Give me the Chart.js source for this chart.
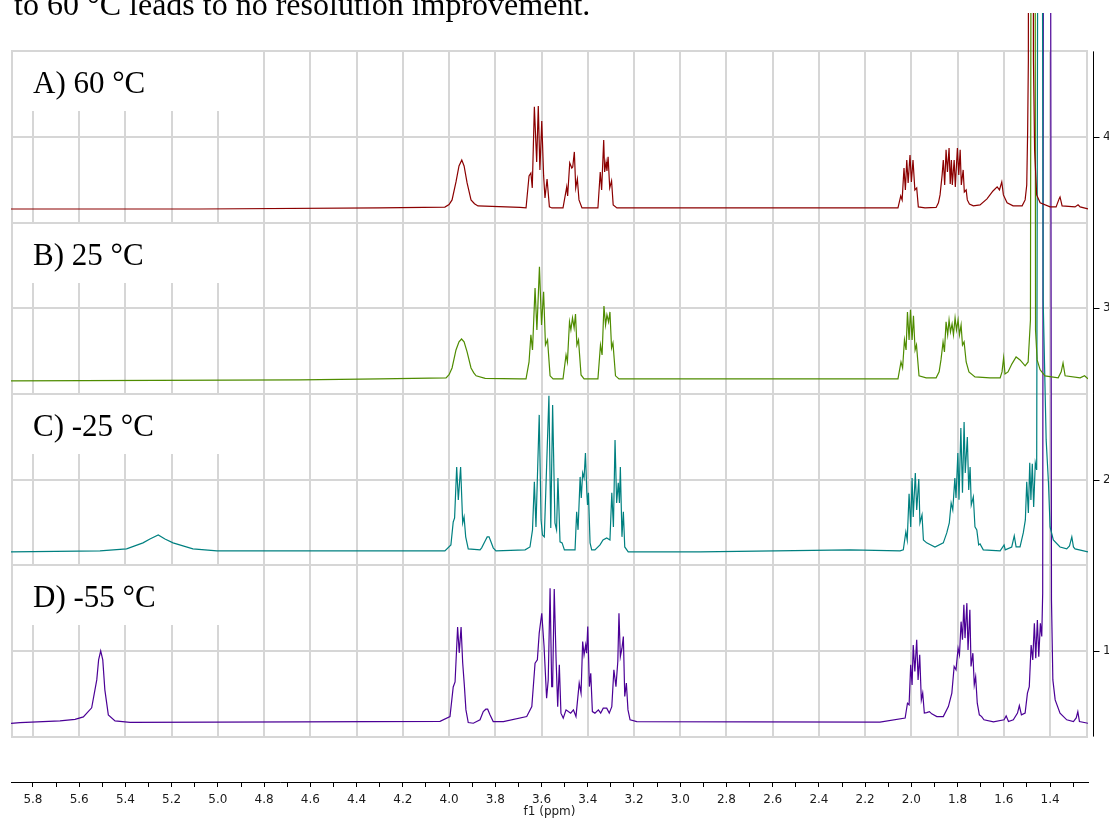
<!DOCTYPE html>
<html>
<head>
<meta charset="utf-8">
<script src="https://cdn.jsdelivr.net/npm/chart.js@4.4.1/dist/chart.umd.min.js"></script>
<style>
  html, body { margin: 0; padding: 0; background: #fff; }
  #wrap { width: 1109px; height: 819px; }
</style>
</head>
<body>
<div id="wrap"><canvas id="myChart" width="1109" height="819"></canvas></div>
<script>
// stacked 1H spectra, [ppm, intensity above own baseline]
const panelLabels = ['A) 60 °C', 'B) 25 °C', 'C) -25 °C', 'D) -55 °C'];
const offsets = [3.586, 2.588, 1.584, 0.586];
const colors = ['#8b0000', '#4f8c00', '#008080', '#4b0096'];
const caption = 'to 60 °C leads to no resolution improvement.';

const xTickLabels = ['5.8','5.6','5.4','5.2','5.0','4.8','4.6','4.4','4.2','4.0','3.8','3.6','3.4','3.2','3.0','2.8','2.6','2.4','2.2','2.0','1.8','1.6','1.4'];
const yTickLabels = [1, 2, 3, 4];
const yGridValues = [0.5, 1, 1.5, 2, 2.5, 3, 3.5, 4, 4.5];
const panelTops = [4.5, 3.5, 2.5, 1.5];

const traceA = [[5.895,-0.006],[5.078,-0.006],[4.299,0],[4.018,0.005],[4.000,0.020],[3.987,0.047],[3.970,0.152],[3.957,0.245],[3.945,0.280],[3.935,0.245],[3.922,0.146],[3.905,0.047],[3.890,0.025],[3.875,0.012],[3.693,0.003],
  [3.667,0],[3.654,0.187],[3.646,0.204],[3.640,0.117],[3.631,0.590],[3.621,0.268],[3.614,0.595],[3.607,0.222],[3.599,0.508],[3.591,0.190],[3.585,0.058],[3.576,0.169],[3.566,0.006],[3.555,0],
  [3.507,0],[3.491,0.123],[3.487,0.070],[3.478,0.263],[3.469,0.233],[3.465,0.239],[3.458,0.327],[3.452,0.117],[3.445,0.169],[3.438,0.047],[3.425,0],
  [3.356,0],[3.346,0.210],[3.340,0.105],[3.331,0.397],[3.327,0.210],[3.321,0.268],[3.317,0.216],[3.312,0.298],[3.305,0.117],[3.297,0.158],[3.290,0.018],[3.274,0],
  [2.600,0],[2.058,0],[2.046,0.070],[2.040,0.047],[2.032,0.233],[2.026,0.105],[2.020,0.280],[2.014,0.146],[2.006,0.309],[2.000,0.152],[1.993,0.280],[1.985,0.105],[1.977,0.117],[1.970,0.006],[1.941,0],[1.893,0.003],
  [1.883,0.030],[1.876,0.076],[1.867,0.193],[1.862,0.280],[1.856,0.134],[1.850,0.339],[1.844,0.210],[1.837,0.350],[1.832,0.140],[1.827,0.280],[1.823,0.134],[1.815,0.280],[1.810,0.123],[1.801,0.350],[1.795,0.193],[1.789,0.339],[1.784,0.134],[1.776,0.222],[1.771,0.093],[1.763,0.105],[1.758,0.047],[1.749,0.023],[1.732,0.012],
  [1.703,0.018],[1.673,0.053],[1.647,0.099],[1.629,0.123],[1.619,0.105],[1.609,0.152],[1.602,0.076],[1.586,0.030],[1.560,0.012],[1.521,0.012],[1.508,0.047],[1.501,0.134],[1.497,0.455],[1.494,0.864],[1.491,6],[1.476,6],[1.472,0.864],[1.467,0.339],[1.458,0.076],[1.443,0.030],[1.400,0.006],[1.374,0.006],[1.361,0.053],[1.357,0.064],[1.348,0.012],[1.292,0.006],[1.279,0.018],[1.270,0.006],[1.236,-0.006]];

const traceB = [[5.895,-0.012],[4.645,-0.006],[4.299,0],[4.013,0.006],[4.000,0.025],[3.987,0.064],[3.970,0.169],[3.957,0.216],[3.946,0.233],[3.935,0.216],[3.922,0.158],[3.905,0.064],[3.893,0.035],[3.883,0.018],[3.844,0.003],[3.693,0],
  [3.667,0],[3.654,0.099],[3.646,0.257],[3.639,0.169],[3.628,0.531],[3.620,0.286],[3.609,0.654],[3.600,0.315],[3.591,0.508],[3.583,0.198],[3.574,0.228],[3.563,0.018],[3.550,0],
  [3.507,0],[3.494,0.140],[3.488,0.099],[3.479,0.333],[3.473,0.286],[3.466,0.356],[3.459,0.298],[3.453,0.379],[3.447,0.198],[3.440,0.228],[3.429,0.023],[3.416,0],
  [3.356,0],[3.345,0.198],[3.338,0.140],[3.330,0.426],[3.323,0.315],[3.317,0.374],[3.310,0.333],[3.304,0.391],[3.297,0.181],[3.291,0.210],[3.280,0.018],[3.265,0],
  [2.914,0],[2.058,0],[2.045,0.099],[2.038,0.064],[2.030,0.228],[2.023,0.169],[2.017,0.391],[2.010,0.228],[2.004,0.403],[1.997,0.228],[1.991,0.368],[1.984,0.169],[1.978,0.198],[1.967,0.018],[1.936,0.006],[1.893,0.006],
  [1.880,0.041],[1.872,0.111],[1.863,0.216],[1.857,0.158],[1.850,0.333],[1.843,0.257],[1.837,0.344],[1.831,0.274],[1.824,0.321],[1.818,0.257],[1.811,0.356],[1.805,0.286],[1.798,0.344],[1.792,0.257],[1.785,0.315],[1.779,0.198],[1.772,0.216],[1.763,0.099],[1.751,0.041],[1.725,0.012],[1.660,0.006],
  [1.616,0.006],[1.608,0.041],[1.601,0.123],[1.595,0.029],[1.582,0.041],[1.565,0.088],[1.547,0.128],[1.530,0.111],[1.508,0.076],[1.495,0.099],[1.485,0.344],[1.479,6],[1.467,6],[1.463,0.286],[1.456,0.111],[1.443,0.053],[1.422,0.018],[1.365,0.006],[1.352,0.041],[1.344,0.093],[1.335,0.018],[1.270,0.006],[1.251,0.018],[1.236,0]];

const traceC = [[5.895,-0.006],[5.510,0],[5.395,0.012],[5.324,0.047],[5.294,0.070],[5.258,0.093],[5.229,0.070],[5.194,0.047],[5.108,0.012],[5.004,0],[4.212,0],[4.018,0],
  [3.992,0.035],[3.982,0.169],[3.976,0.193],[3.967,0.490],[3.960,0.298],[3.950,0.490],[3.941,0.163],[3.935,0.198],[3.928,0.082],[3.917,0.012],[3.866,0.006],
  [3.859,0.018],[3.844,0.058],[3.835,0.082],[3.827,0.082],[3.820,0.058],[3.809,0.018],[3.797,0],[3.671,0.006],
  [3.650,0.023],[3.639,0.123],[3.631,0.403],[3.624,0.140],[3.610,0.794],[3.602,0.181],[3.596,0.093],[3.588,0.082],[3.568,0.905],[3.560,0.134],[3.552,0.852],[3.542,0.163],[3.535,0.123],[3.529,0.426],[3.520,0.053],[3.511,0.047],[3.501,0.006],
  [3.455,0.006],[3.448,0.228],[3.442,0.123],[3.433,0.432],[3.428,0.309],[3.422,0.455],[3.416,0.426],[3.410,0.572],[3.404,0.339],[3.401,0.268],[3.397,0.339],[3.390,0.047],[3.383,0.006],[3.369,0.006],
  [3.347,0.035],[3.334,0.064],[3.318,0.076],[3.304,0.064],
  [3.296,0.339],[3.289,0.140],[3.282,0.648],[3.275,0.280],[3.268,0.397],[3.263,0.280],[3.259,0.490],[3.252,0.082],[3.246,0.228],[3.240,0.023],[3.225,-0.006],
  [2.914,-0.006],[2.265,0.006],[2.049,0],[2.035,0.006],[2.024,0.111],[2.018,0.064],[2.010,0.333],[2.003,0.140],[1.997,0.426],[1.992,0.198],[1.983,0.455],[1.977,0.239],[1.968,0.420],[1.963,0.163],[1.954,0.210],[1.948,0.064],[1.934,0.047],[1.898,0.023],[1.862,0.047],
  [1.847,0.105],[1.836,0.163],[1.828,0.280],[1.821,0.239],[1.812,0.426],[1.807,0.309],[1.799,0.572],[1.794,0.298],[1.786,0.718],[1.779,0.339],[1.772,0.753],[1.767,0.455],[1.758,0.665],[1.752,0.356],[1.746,0.490],[1.741,0.268],[1.732,0.315],[1.725,0.140],[1.717,0.123],[1.709,0.035],[1.703,0.041],[1.689,0.006],[1.616,0],[1.599,0.035],[1.594,0.006],[1.566,0.023],[1.555,0.088],[1.547,0.023],[1.530,0.023],
  [1.516,0.105],[1.507,0.181],[1.501,0.403],[1.494,0.222],[1.488,0.514],[1.483,0.298],[1.477,0.508],[1.471,0.257],[1.464,0.514],[1.458,0.473],[1.450,6],[1.437,6],[1.430,1.465],[1.417,0.648],[1.407,0.397],[1.400,0.140],[1.386,0.064],[1.357,0.023],[1.328,0.012],[1.316,0.029],[1.306,0.082],[1.299,0.023],[1.292,0.012],[1.236,-0.006]];

const traceD = [[5.895,-0.009],[5.856,-0.004],[5.683,0.006],[5.618,0.015],[5.582,0.029],[5.546,0.082],[5.524,0.245],[5.516,0.362],[5.507,0.414],[5.498,0.362],[5.489,0.187],[5.474,0.041],[5.445,0.006],[5.380,-0.003],[4.645,0],[4.039,0.003],
  [3.996,0.031],[3.982,0.204],[3.974,0.233],[3.963,0.554],[3.956,0.403],[3.948,0.554],[3.941,0.344],[3.934,0.216],[3.927,0.070],[3.917,-0.004],[3.895,-0.008],
  [3.866,0.012],[3.852,0.060],[3.841,0.074],[3.833,0.074],[3.823,0.041],[3.809,0.002],[3.765,0.002],
  [3.664,0.031],[3.642,0.089],[3.628,0.343],[3.618,0.362],[3.610,0.518],[3.599,0.634],[3.589,0.440],[3.578,0.138],[3.571,0.245],[3.563,0.780],[3.556,0.206],[3.552,0.206],[3.545,0.776],[3.537,0.362],[3.530,0.089],[3.523,0.333],[3.516,0.051],[3.506,0.022],[3.494,0.070],[3.484,0.060],[3.474,0.051],[3.462,0.070],[3.451,0.031],
  [3.437,0.226],[3.429,0.168],[3.422,0.469],[3.416,0.391],[3.409,0.449],[3.405,0.401],[3.400,0.556],[3.393,0.206],[3.387,0.284],[3.380,0.060],[3.369,0.051],[3.354,0.070],[3.344,0.051],[3.333,0.080],[3.318,0.080],[3.307,0.051],[3.296,0.089],
  [3.287,0.304],[3.278,0.206],[3.270,0.352],[3.265,0.634],[3.259,0.381],[3.252,0.430],[3.246,0.498],[3.240,0.148],[3.233,0.226],[3.226,0.070],[3.217,0.012],[3.188,0.002],[2.698,0],[2.136,-0.002],
  [2.027,0.022],[2.017,0.109],[2.010,0.099],[2.003,0.333],[1.997,0.216],[1.992,0.449],[1.985,0.294],[1.977,0.479],[1.971,0.245],[1.964,0.391],[1.957,0.128],[1.951,0.168],[1.944,0.051],[1.934,0.054],[1.922,0.060],[1.912,0.047],[1.890,0.031],[1.862,0.031],[1.840,0.089],[1.825,0.168],
  [1.815,0.323],[1.807,0.304],[1.798,0.430],[1.792,0.391],[1.785,0.585],[1.779,0.479],[1.773,0.683],[1.768,0.489],[1.760,0.693],[1.755,0.420],[1.747,0.654],[1.742,0.323],[1.734,0.401],[1.728,0.216],[1.722,0.264],[1.715,0.109],[1.706,0.041],[1.696,0.031],[1.686,0.012],[1.645,0],[1.599,0.012],[1.590,0.035],[1.580,0.002],[1.559,0.012],[1.541,0.051],[1.533,0.095],[1.524,0.041],[1.508,0.051],[1.498,0.168],[1.490,0.206],
  [1.482,0.449],[1.475,0.362],[1.468,0.576],[1.462,0.372],[1.455,0.595],[1.449,0.381],[1.442,0.576],[1.436,0.498],[1.432,0.751],[1.428,6],[1.399,6],[1.394,0.712],[1.388,0.245],[1.378,0.128],[1.357,0.051],[1.328,0.012],[1.299,0.002],[1.287,0.023],[1.280,0.060],[1.273,0.002],[1.236,-0.008]];

const traces = [traceA, traceB, traceC, traceD];

const xMin = 1.236, xMax = 5.895;
const yMin = 0.235, yMax = 4.724;

const tickFont = {family: '"DejaVu Sans", Verdana, sans-serif', size: 12};

// grid, frame, white label boxes, right axis line and the caption line
const framePlugin = {
  id: 'frame',
  beforeDatasetsDraw(chart) {
    const {ctx, chartArea: area} = chart;
    const x = chart.scales.x, y = chart.scales.y;
    const top = y.getPixelForValue(yGridValues[yGridValues.length - 1]);
    const bottom = y.getPixelForValue(yGridValues[0]);
    ctx.save();
    ctx.strokeStyle = '#d6d6d6';
    ctx.lineWidth = 2;
    ctx.beginPath();
    xTickLabels.forEach(t => {
      const px = Math.round(x.getPixelForValue(parseFloat(t)));
      ctx.moveTo(px, top); ctx.lineTo(px, bottom);
    });
    yGridValues.forEach(v => {
      const py = Math.round(y.getPixelForValue(v));
      ctx.moveTo(area.left, py); ctx.lineTo(area.right, py);
    });
    ctx.moveTo(area.left + 1, top); ctx.lineTo(area.left + 1, bottom);
    ctx.moveTo(area.right - 1, top); ctx.lineTo(area.right - 1, bottom);
    ctx.stroke();

    panelTops.forEach((v, i) => {
      const y0 = Math.round(y.getPixelForValue(v)) + 1;
      ctx.fillStyle = '#fff';
      ctx.fillRect(area.left + 2, y0, 228, 59);
      ctx.fillStyle = '#000';
      ctx.font = '31px "Liberation Serif", "Times New Roman", serif';
      ctx.textBaseline = 'alphabetic';
      ctx.fillText(panelLabels[i], 33, y0 + 41);
    });
    ctx.restore();
  },
  afterDraw(chart) {
    const {ctx, chartArea: area} = chart;
    const y = chart.scales.y;
    const top = y.getPixelForValue(yGridValues[yGridValues.length - 1]);
    const bottom = y.getPixelForValue(yGridValues[0]);
    const ax = area.right + 5.5;
    ctx.save();
    ctx.strokeStyle = '#000';
    ctx.lineWidth = 1;
    ctx.beginPath();
    ctx.moveTo(ax, top); ctx.lineTo(ax, bottom);
    yTickLabels.forEach(v => {
      const py = Math.round(y.getPixelForValue(v)) + 0.5;
      ctx.moveTo(ax, py); ctx.lineTo(ax + 6, py);
    });
    ctx.stroke();
    ctx.fillStyle = '#000';
    ctx.font = '32px "Liberation Serif", "Times New Roman", serif';
    ctx.textBaseline = 'alphabetic';
    ctx.fillText(caption, 14, 15);
    ctx.restore();
  }
};

const ctx = document.getElementById('myChart').getContext('2d');

const config = {
  type: 'line',
  data: {
    datasets: traces.map((tr, i) => ({
      label: panelLabels[i],
      data: tr.map(p => ({x: p[0], y: p[1] + offsets[i]})),
      borderColor: colors[i],
      borderWidth: 1.2,
      pointRadius: 0,
      tension: 0,
      fill: false
    }))
  },
  options: {
    responsive: false,
    maintainAspectRatio: false,
    animation: false,
    layout: {padding: {left: 11, top: 13, right: 0, bottom: 0}},
    plugins: {legend: {display: false}, tooltip: {enabled: false}},
    scales: {
      x: {
        type: 'linear',
        reverse: true,
        min: xMin,
        max: xMax,
        afterBuildTicks: axis => {
          const t = [];
          for (let k = 13; k <= 58; k++) t.push({value: k / 10});
          axis.ticks = t;
        },
        afterFit: axis => { axis.height = 37; },
        ticks: {
          autoSkip: false, maxRotation: 0, minRotation: 0, padding: 6,
          color: '#1a1a1a', font: tickFont,
          callback: v => {
            const s = Number(v).toFixed(1);
            return xTickLabels.includes(s) ? s : '';
          }
        },
        grid: {drawOnChartArea: false, drawTicks: true, tickLength: 5, tickColor: '#000', color: '#000'},
        border: {display: true, color: '#000', width: 1},
        title: {display: true, text: 'f1 (ppm)', color: '#1a1a1a', font: tickFont, padding: {top: 0, bottom: 0}}
      },
      y: {
        type: 'linear',
        position: 'right',
        min: yMin,
        max: yMax,
        afterBuildTicks: axis => { axis.ticks = yTickLabels.map(v => ({value: v})); },
        afterFit: axis => { axis.width = 21; },
        ticks: {padding: 0, color: '#1a1a1a', font: tickFont},
        grid: {display: false, drawTicks: true, tickLength: 15},
        border: {display: false}
      }
    }
  },
  plugins: [framePlugin]
};

const myChart = new Chart(ctx, config);
</script>
</body>
</html>
